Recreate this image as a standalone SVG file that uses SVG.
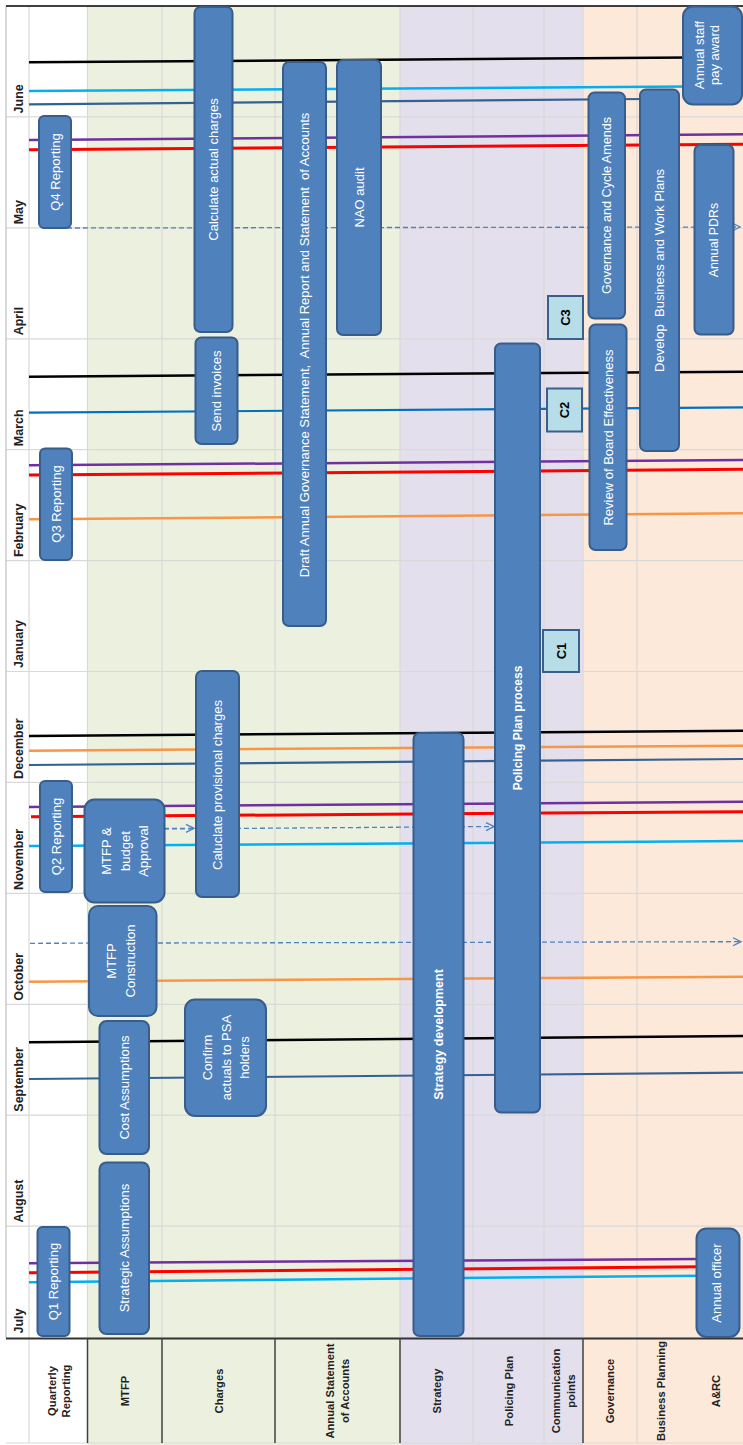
<svg xmlns="http://www.w3.org/2000/svg" width="743" height="1445" viewBox="0 0 743 1445">
<style>
.bg{stroke:none}
.grid{stroke:#D9D9D9;stroke-width:1.2}
.hsep{stroke:#404040;stroke-width:1.5}
.box{fill:#4F81BD;stroke:#385D8A;stroke-width:2}
.cbox{fill:#B7DEE8;stroke:#3A5F8A;stroke-width:2}
.bt{fill:#FFFFFF;font-family:"Liberation Sans",Arial,sans-serif;font-size:13px;text-anchor:middle;dominant-baseline:central}
.bb{font-weight:bold}
.ct{fill:#000;font-family:"Liberation Sans",Arial,sans-serif;font-size:13px;font-weight:bold;text-anchor:middle;dominant-baseline:central}
.mon{fill:#222;font-family:"Liberation Sans",Arial,sans-serif;font-size:12.5px;font-weight:bold}
.hdr{fill:#222;font-family:"Liberation Sans",Arial,sans-serif;font-size:11.2px;font-weight:bold;text-anchor:middle;dominant-baseline:central}
.ln{fill:none;stroke-width:2.5}
.k{stroke:#000}
.cy{stroke:#00B0F0}
.db{stroke:#376092;stroke-width:2.2}
.bl{stroke:#0070C0;stroke-width:2.2}
.pu{stroke:#7030A0}
.rd{stroke:#FF0000;stroke-width:3}
.or{stroke:#F79646}
.dash{fill:none;stroke:#4F81BD;stroke-width:1.3;stroke-dasharray:5 3}
</style>
<defs>
<marker id="arr" markerWidth="10" markerHeight="10" refX="9" refY="5" orient="auto" markerUnits="userSpaceOnUse">
<path d="M1,1 L9,5 L1,9" fill="none" stroke="#4F81BD" stroke-width="1.3"/>
</marker>
</defs>

<g id="background">
<rect x="0" y="0" width="743" height="1445" fill="#FFFFFF"/>
<rect class="bg" x="87" y="6" width="313" height="1439" fill="#EBF1DE"/>
<rect class="bg" x="400" y="6" width="183" height="1439" fill="#E4DFEC"/>
<rect class="bg" x="583" y="6" width="160" height="1439" fill="#FDE9D9"/>
<g class="grid">
<line x1="6" y1="116.9" x2="743" y2="116.9"/>
<line x1="6" y1="227.8" x2="743" y2="227.8"/>
<line x1="6" y1="338.8" x2="743" y2="338.8"/>
<line x1="6" y1="449.7" x2="743" y2="449.7"/>
<line x1="6" y1="560.6" x2="743" y2="560.6"/>
<line x1="6" y1="671.5" x2="743" y2="671.5"/>
<line x1="6" y1="782.4" x2="743" y2="782.4"/>
<line x1="6" y1="893.4" x2="743" y2="893.4"/>
<line x1="6" y1="1004.3" x2="743" y2="1004.3"/>
<line x1="6" y1="1115.2" x2="743" y2="1115.2"/>
<line x1="6" y1="1226.1" x2="743" y2="1226.1"/>
<line x1="29" y1="6" x2="29" y2="1443"/>
<line x1="87.5" y1="6" x2="87.5" y2="1338"/>
<line x1="162" y1="6" x2="162" y2="1338"/>
<line x1="275" y1="6" x2="275" y2="1338"/>
<line x1="400" y1="6" x2="400" y2="1338"/>
<line x1="473" y1="6" x2="473" y2="1443"/>
<line x1="544" y1="6" x2="544" y2="1443"/>
<line x1="583" y1="6" x2="583" y2="1338"/>
<line x1="637" y1="6" x2="637" y2="1443"/>
<line x1="6" y1="1443" x2="743" y2="1443"/>
</g>
<line x1="6" y1="6" x2="6" y2="1338" stroke="#BFBFBF" stroke-width="1.2"/>
<line x1="6" y1="6" x2="743" y2="6" stroke="#000" stroke-width="1.5"/>
<line x1="6" y1="1338.5" x2="743" y2="1338.5" stroke="#333" stroke-width="2"/>
<g class="hsep">
<line x1="87.5" y1="1338" x2="87.5" y2="1443"/>
<line x1="162" y1="1338" x2="162" y2="1443"/>
<line x1="275" y1="1338" x2="275" y2="1443"/>
<line x1="400" y1="1338" x2="400" y2="1443"/>
<line x1="583" y1="1338" x2="583" y2="1443"/>
</g>
</g>

<g id="months">
<text class="mon" transform="translate(23,113.4) rotate(-90)">June</text>
<text class="mon" transform="translate(23,224.3) rotate(-90)">May</text>
<text class="mon" transform="translate(23,335.3) rotate(-90)">April</text>
<text class="mon" transform="translate(23,446.2) rotate(-90)">March</text>
<text class="mon" transform="translate(23,557.1) rotate(-90)">February</text>
<text class="mon" transform="translate(23,668) rotate(-90)">January</text>
<text class="mon" transform="translate(23,778.9) rotate(-90)">December</text>
<text class="mon" transform="translate(23,889.9) rotate(-90)">November</text>
<text class="mon" transform="translate(23,1000.8) rotate(-90)">October</text>
<text class="mon" transform="translate(23,1111.7) rotate(-90)">September</text>
<text class="mon" transform="translate(23,1222.6) rotate(-90)">August</text>
<text class="mon" transform="translate(23,1333.5) rotate(-90)">July</text>
</g>

<g id="headers">
<text class="hdr" transform="translate(58.5,1391) rotate(-90)"><tspan x="0" y="-7">Quarterly</tspan><tspan x="0" y="7">Reporting</tspan></text>
<text class="hdr" transform="translate(125,1391) rotate(-90)">MTFP</text>
<text class="hdr" transform="translate(218.5,1391) rotate(-90)">Charges</text>
<text class="hdr" transform="translate(337.5,1391) rotate(-90)"><tspan x="0" y="-7.5">Annual Statement</tspan><tspan x="0" y="7.5">of Accounts</tspan></text>
<text class="hdr" transform="translate(436.5,1391) rotate(-90)">Strategy</text>
<text class="hdr" transform="translate(508.5,1391) rotate(-90)">Policing Plan</text>
<text class="hdr" transform="translate(563.5,1391) rotate(-90)"><tspan x="0" y="-7.5">Communication</tspan><tspan x="0" y="7.5">points</tspan></text>
<text class="hdr" transform="translate(610,1391) rotate(-90)">Governance</text>
<text class="hdr" transform="translate(661,1391) rotate(-90)">Business Planning</text>
<text class="hdr" transform="translate(716,1391) rotate(-90)">A&amp;RC</text>
</g>

<g id="connectors">
<line class="ln k" x1="29" y1="62.3" x2="690" y2="57.5"/>
<line class="ln cy" x1="29" y1="91" x2="690" y2="86.5"/>
<line class="ln db" x1="29" y1="104.3" x2="645" y2="99"/>
<line class="ln pu" x1="29" y1="140" x2="743" y2="134.3"/>
<line class="ln rd" x1="29" y1="149.7" x2="743" y2="144.3"/>
<line class="dash" x1="67" y1="228" x2="740" y2="227" marker-end="url(#arr)"/>
<line class="ln k" x1="29" y1="376.7" x2="743" y2="371.7"/>
<line class="ln bl" x1="29" y1="412.7" x2="743" y2="407.3"/>
<line class="ln pu" x1="29" y1="465.3" x2="743" y2="460"/>
<line class="ln rd" x1="29" y1="475" x2="743" y2="469.3"/>
<line class="ln or" x1="29" y1="519.3" x2="743" y2="513.3"/>
<line class="ln k" x1="29" y1="736" x2="743" y2="730.7"/>
<line class="ln or" x1="29" y1="750.7" x2="743" y2="745.7"/>
<line class="ln db" x1="29" y1="765" x2="743" y2="759"/>
<line class="ln pu" x1="29" y1="807" x2="743" y2="801.7"/>
<line class="ln rd" x1="31" y1="816.7" x2="743" y2="811.7"/>
<line class="dash" x1="164" y1="828.5" x2="194" y2="828.3" marker-end="url(#arr)"/>
<line class="dash" x1="164" y1="829" x2="494" y2="826.5" marker-end="url(#arr)"/>
<line class="ln cy" x1="29" y1="846" x2="743" y2="841"/>
<line class="dash" x1="30" y1="943.3" x2="741" y2="941.7" marker-end="url(#arr)"/>
<line class="ln or" x1="29" y1="981.7" x2="743" y2="976.7"/>
<line class="ln k" x1="29" y1="1042.3" x2="743" y2="1036"/>
<line class="ln db" x1="29" y1="1079" x2="743" y2="1072.7"/>
<line class="ln pu" x1="29" y1="1263.3" x2="700" y2="1259"/>
<line class="ln rd" x1="29" y1="1272.7" x2="700" y2="1266.7"/>
<line class="ln cy" x1="29" y1="1282.3" x2="700" y2="1275.7"/>
</g>

<g id="q1"><rect class="box" x="37.5" y="1227" width="32" height="109" rx="5"/><text class="bt" transform="translate(53.5,1281.5) rotate(-90)">Q1 Reporting</text></g>
<g id="q2"><rect class="box" x="40" y="781" width="32" height="111" rx="5"/><text class="bt" transform="translate(56,836.5) rotate(-90)">Q2 Reporting</text></g>
<g id="q3"><rect class="box" x="40" y="448.5" width="32" height="111.5" rx="5"/><text class="bt" transform="translate(56,504) rotate(-90)">Q3 Reporting</text></g>
<g id="q4"><rect class="box" x="39" y="116" width="32" height="112" rx="5"/><text class="bt" transform="translate(55,172) rotate(-90)">Q4 Reporting</text></g>

<g id="strategic-assumptions"><rect class="box" x="99.5" y="1162.5" width="49.5" height="171.5" rx="7"/><text class="bt" transform="translate(124,1248) rotate(-90)">Strategic Assumptions</text></g>
<g id="cost-assumptions"><rect class="box" x="99.5" y="1021" width="49.5" height="133" rx="7"/><text class="bt" transform="translate(124,1087.5) rotate(-90)">Cost Assumptions</text></g>
<g id="mtfp-construction"><rect class="box" x="89" y="906" width="67.5" height="110" rx="9"/><text class="bt" transform="translate(120,961) rotate(-90)"><tspan x="0" y="-9.5">MTFP</tspan><tspan x="0" y="9.5">Construction</tspan></text></g>
<g id="mtfp-approval"><rect class="box" x="84.5" y="799.5" width="80" height="103" rx="10"/><text class="bt" transform="translate(124.5,851) rotate(-90)"><tspan x="0" y="-18.5">MTFP &amp;</tspan><tspan x="0" y="0">budget</tspan><tspan x="0" y="18.5">Approval</tspan></text></g>

<g id="confirm-actuals"><rect class="box" x="185" y="999.5" width="81" height="116.5" rx="10"/><text class="bt" transform="translate(225.5,1057.5) rotate(-90)"><tspan x="0" y="-18.5">Confirm</tspan><tspan x="0" y="0">actuals to PSA</tspan><tspan x="0" y="18.5">holders</tspan></text></g>
<g id="provisional-charges"><rect class="box" x="196" y="671" width="43" height="226" rx="6"/><text class="bt" transform="translate(217.5,785) rotate(-90)">Caluclate provisional charges</text></g>
<g id="send-invoices"><rect class="box" x="195.5" y="337.5" width="42" height="106.5" rx="6"/><text class="bt" transform="translate(216.5,391) rotate(-90)">Send invoices</text></g>
<g id="actual-charges"><rect class="box" x="194.5" y="7" width="38" height="325" rx="6"/><text class="bt" transform="translate(213.5,169.5) rotate(-90)">Calculate actual charges</text></g>

<g id="draft-annual"><rect class="box" x="283" y="62" width="43" height="564" rx="6"/><text class="bt" xml:space="preserve" transform="translate(304.5,345) rotate(-90)">Draft Annual Governance Statement,  Annual Report and Statement  of Accounts</text></g>
<g id="nao-audit"><rect class="box" x="337" y="60" width="44" height="275" rx="6"/><text class="bt" transform="translate(359,197.5) rotate(-90)">NAO audit</text></g>

<g id="strategy-development"><rect class="box" x="413.5" y="733" width="50" height="603" rx="6"/><text class="bt bb" style="font-size:12.5px" transform="translate(438.5,1034.5) rotate(-90)">Strategy development</text></g>
<g id="policing-plan"><rect class="box" x="495" y="343.5" width="45" height="769" rx="6"/><text class="bt bb" style="font-size:12px" transform="translate(517.5,728) rotate(-90)">Policing Plan process</text></g>

<g id="c1"><rect class="cbox" x="543" y="630" width="36" height="42"/><text class="ct" transform="translate(561,651) rotate(-90)">C1</text></g>
<g id="c2"><rect class="cbox" x="547" y="388.5" width="35" height="43"/><text class="ct" transform="translate(564.5,410) rotate(-90)">C2</text></g>
<g id="c3"><rect class="cbox" x="548" y="296" width="35" height="43"/><text class="ct" transform="translate(565.5,317.5) rotate(-90)">C3</text></g>

<g id="board-effectiveness"><rect class="box" x="589.5" y="324.5" width="37" height="225.5" rx="6"/><text class="bt" transform="translate(608,437.5) rotate(-90)">Review of Board Effectiveness</text></g>
<g id="governance-cycle"><rect class="box" x="588.5" y="92.5" width="36.5" height="226" rx="6"/><text class="bt" style="font-size:12.6px" transform="translate(607,205.5) rotate(-90)">Governance and Cycle Amends</text></g>
<g id="business-plans"><rect class="box" x="640" y="89.5" width="39" height="361.5" rx="6"/><text class="bt" xml:space="preserve" transform="translate(659.5,270.5) rotate(-90)">Develop  Business and Work Plans</text></g>
<g id="annual-pdrs"><rect class="box" x="694.5" y="145" width="39" height="189.5" rx="6"/><text class="bt" style="font-size:12.4px" transform="translate(714,240) rotate(-90)">Annual PDRs</text></g>
<g id="pay-award"><rect class="box" x="683" y="6.5" width="59" height="98" rx="10"/><text class="bt" transform="translate(706,55) rotate(-90)"><tspan x="0" y="-7">Annual staff</tspan><tspan x="0" y="8">pay award</tspan></text></g>
<g id="annual-officer"><rect class="box" x="696.5" y="1228.5" width="43" height="108.5" rx="10"/><text class="bt" transform="translate(716.5,1283) rotate(-90)">Annual officer</text></g>
</svg>
